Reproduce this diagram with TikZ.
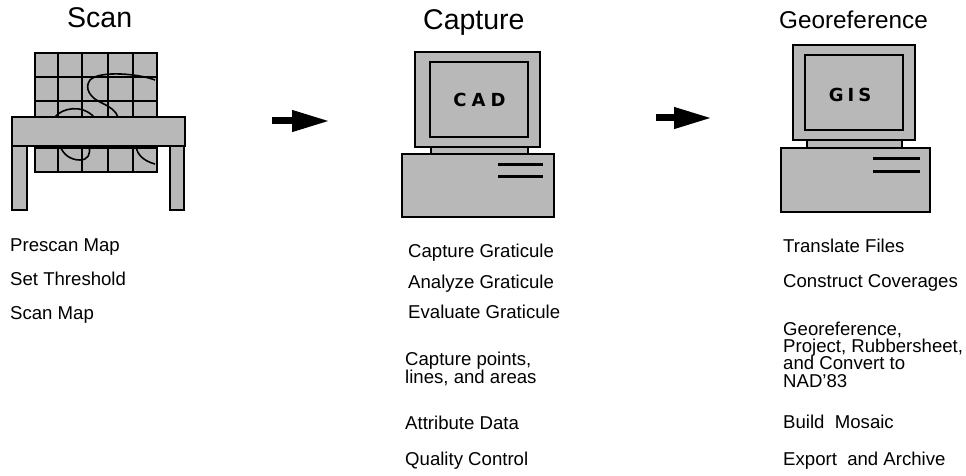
\documentclass[tikz,border=0pt]{standalone}
\usepackage{fontspec}
\setmainfont{Liberation Sans}
\newfontfamily\screenfont{DejaVu Sans}
\usetikzlibrary{arrows.meta}
\begin{document}
% let the multi-line labels keep their tight, fixed line pitch
\lineskiplimit=-10pt
\begin{tikzpicture}[x=1pt,y=-1pt,
  title/.style={font=\fontsize{28.5}{30}\selectfont, anchor=base west, inner sep=0pt},
  item/.style={font=\fontsize{18.6}{18}\selectfont, anchor=base west, inner sep=0pt},
  block/.style={font=\fontsize{18.6}{17.4}\selectfont, anchor=north west, align=left, inner sep=0pt},
  halftone/.style={draw=black, line width=1.7pt, fill=black!28},
  gridline/.style={draw=black, line width=1.4pt},
  mapline/.style={draw=black, line width=1.6pt},
  screenlabel/.style={font=\screenfont\bfseries\fontsize{18}{18}\selectfont, inner sep=0pt},
  flow/.style={line width=7pt, -{Triangle[length=38pt,width=20pt]}}
]
\useasboundingbox (0,0) rectangle (966,476);

% ---------- Scan: map under the scanner bridge ----------
\node[title] (tscan) at (67,28) {Scan};
\filldraw[halftone] (35,53) rectangle (157,172);
\foreach \x in {58,82,108,133} \draw[gridline] (\x,53) -- (\x,172);
\foreach \y in {77,101,125,148} \draw[gridline] (35,\y) -- (157,\y);
% map features
\draw[mapline] (155,80) .. controls (140,74) and (100,70) .. (90,80)
  .. controls (84,88) and (90,98) .. (102,103) .. controls (110,107) and (116,111) .. (118,117);
\draw[mapline] (55,117) .. controls (62,108) and (82,104) .. (94,117);
\draw[mapline] (60,146) .. controls (63,154) and (70,160) .. (80,160)
  .. controls (88,160) and (91,154) .. (89,146);
\draw[mapline] (136,146) .. controls (137,155) and (144,161) .. (155,164);
% scanner bridge and legs
\filldraw[halftone] (12,117) rectangle (185,146);
\filldraw[halftone] (12,146) rectangle (27,210);
\filldraw[halftone] (170,146) rectangle (184,210);

\node[item] (s1) at (10,251) {Prescan Map};
\node[item] (s2) at (10,285) {Set Threshold};
\node[item] (s3) at (10,319) {Scan Map};

% ---------- Capture: CAD workstation ----------
\node[title] (tcap) at (423,30) {Capture};
\filldraw[halftone] (415,52) rectangle (540,147);
\filldraw[halftone] (430,62) rectangle (528,137);
\node[screenlabel] (cad) at (479.5,99.5) {C\kern5pt A\kern5pt D};
\filldraw[halftone] (431,147) rectangle (528,154);
\filldraw[halftone] (402,154) rectangle (554,217);
\draw[line width=3pt] (498,164) -- (543,164) (498,176) -- (543,176);

\node[item] (c1) at (408,257) {Capture Graticule};
\node[item] (c2) at (408,288) {Analyze Graticule};
\node[item] (c3) at (408,318) {Evaluate Graticule};
\node[block] (c4) at (405,352) {Capture points,\\lines, and areas};
\node[item] (c5) at (405,429) {Attribute Data};
\node[item] (c6) at (405,465) {Quality Control};

% ---------- Georeference: GIS workstation ----------
\node[title, font=\fontsize{24.3}{26}\selectfont] (tgeo) at (779,29) {Georeference};
\filldraw[halftone] (793,45) rectangle (915,140);
\filldraw[halftone] (805,55) rectangle (903,130);
\node[screenlabel] (gis) at (850,95) {G\kern4pt I\kern4pt S};
\filldraw[halftone] (807,140) rectangle (902,148);
\filldraw[halftone] (781,148) rectangle (930,212);
\draw[line width=3pt] (873,158) -- (920,158) (873,171) -- (920,171);

\node[item] (g1) at (783,252) {Translate Files};
\node[item] (g2) at (783,287) {Construct Coverages};
\node[block] (g3) at (783,321.5) {Georeference,\\Project, Rubbersheet,\\and Convert to\\NAD'83};
\node[item] (g4) at (783,428) {Build\ \ Mosaic};
\node[item] (g5) at (783,465) {Export\ \ and Archive};

% ---------- flow arrows between stages ----------
\coordinate (a1s) at (272,121);
\coordinate (a1e) at (330,121);
\coordinate (a2s) at (656,118);
\coordinate (a2e) at (712,118);
\draw[flow] (a1s) -- (a1e);
\draw[flow] (a2s) -- (a2e);
\end{tikzpicture}
\end{document}
